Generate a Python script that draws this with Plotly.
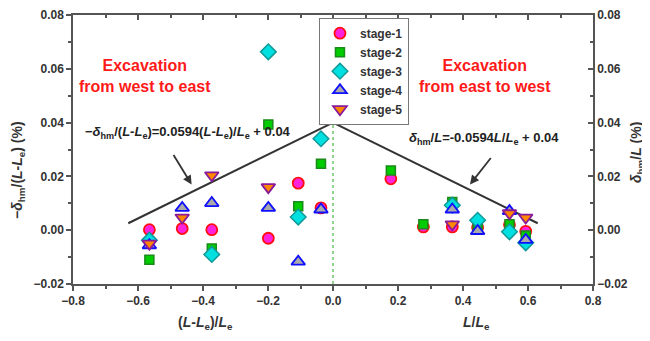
import plotly.graph_objects as go

# ---- data ----
stage_names = ["stage-1", "stage-2", "stage-3", "stage-4", "stage-5"]
s1_x = [-0.565, -0.464, -0.373, -0.199, -0.107, -0.037, 0.178, 0.278, 0.367, 0.445, 0.543, 0.593]
s1_y = [0.0002, 0.0006, 0.0002, -0.003, 0.0175, 0.0083, 0.0191, 0.0012, 0.0012, 0.001, 0.002, -0.0004]
s2_x = [-0.565, -0.373, -0.199, -0.107, -0.037, 0.178, 0.278, 0.367, 0.445, 0.543, 0.593]
s2_y = [-0.011, -0.0068, 0.0393, 0.0089, 0.0247, 0.0222, 0.0022, 0.0105, 0.001, 0.0022, -0.002]
s3_x = [-0.565, -0.373, -0.199, -0.107, -0.037, 0.367, 0.445, 0.543, 0.593]
s3_y = [-0.0037, -0.009, 0.0663, 0.0049, 0.034, 0.0093, 0.0037, -0.0006, -0.0047]
s4_x = [-0.565, -0.464, -0.373, -0.199, -0.107, -0.037, 0.367, 0.445, 0.543, 0.593]
s4_y = [-0.0056, 0.0083, 0.0101, 0.0083, -0.0117, 0.0077, 0.0077, -0.0003, 0.0071, -0.0036]
s5_x = [-0.565, -0.464, -0.373, -0.199, 0.367, 0.543, 0.593]
s5_y = [-0.005, 0.0047, 0.0204, 0.016, 0.0022, 0.0063, 0.0047]

fit_left_x = [-0.63, 0.0]
fit_left_y = [0.0594 * v + 0.04 for v in fit_left_x]
fit_right_x = [0.0, 0.63]
fit_right_y = [-0.0594 * v + 0.04 for v in fit_right_x]

x_range = [-0.8, 0.8]
y_range = [-0.02, 0.08]

FONT = "Liberation Sans, Arial, sans-serif"

fig = go.Figure()

fig.add_trace(go.Scatter(x=[0, 0], y=y_range, mode="lines",
                         line=dict(color="#22aa22", width=1, dash="dot"),
                         showlegend=False, hoverinfo="skip"))
fig.add_trace(go.Scatter(x=fit_left_x, y=fit_left_y, mode="lines",
                         line=dict(color="#333333", width=2), showlegend=False))
fig.add_trace(go.Scatter(x=fit_right_x, y=fit_right_y, mode="lines",
                         line=dict(color="#333333", width=2), showlegend=False))

styles = [
    dict(symbol="circle", size=11, color="#ff22dd", line=dict(color="#ff1010", width=1.8)),
    dict(symbol="square", size=9, color="#00cc00", line=dict(color="#1a8a1a", width=1.5)),
    dict(symbol="diamond", size=12, color="#00e0e0", line=dict(color="#119999", width=1.5)),
    dict(symbol="triangle-up", size=12, color="#aaaaaa", line=dict(color="#1010ff", width=1.8)),
    dict(symbol="triangle-down", size=12, color="#ff8800", line=dict(color="#8a1a9a", width=1.8)),
]
data = [(s1_x, s1_y), (s2_x, s2_y), (s3_x, s3_y), (s4_x, s4_y), (s5_x, s5_y)]
for name, (xs, ys), st in zip(stage_names, data, styles):
    fig.add_trace(go.Scatter(x=xs, y=ys, mode="markers", name=name, marker=st))

# dummy trace to bind secondary (top/right) axes
fig.add_trace(go.Scatter(x=fit_right_x, y=fit_right_y, xaxis="x2", yaxis="y2",
                         mode="lines", line=dict(width=0), showlegend=False,
                         hoverinfo="skip"))

axcol = "#555555"
tickfont = dict(family=FONT, size=12, color="#333333", weight="bold")

fig.update_layout(
    width=650, height=341,
    margin=dict(l=65, r=65, t=7, b=65),
    paper_bgcolor="white", plot_bgcolor="white",
    font=dict(family=FONT),
    xaxis=dict(range=x_range, dtick=0.2, tickformat=".1f", showgrid=False, zeroline=False,
               automargin=False,
               showline=True, linecolor=axcol, linewidth=1.5, ticks="outside",
               ticklen=5, tickcolor=axcol, tickwidth=1.5, tickfont=tickfont,
               minor=dict(dtick=0.1, ticks="outside", ticklen=3, tickcolor=axcol)),
    yaxis=dict(range=y_range, dtick=0.02, tickformat=".2f", showgrid=False, zeroline=False,
               automargin=False,
               showline=True, linecolor=axcol, linewidth=1.5, ticks="outside",
               ticklen=5, tickcolor=axcol, tickwidth=1.5, tickfont=tickfont,
               minor=dict(dtick=0.01, ticks="outside", ticklen=3, tickcolor=axcol)),
    xaxis2=dict(range=x_range, overlaying="x", side="top", dtick=0.2, showgrid=False,
                zeroline=False, showline=True, linecolor=axcol, linewidth=1.5,
                automargin=False,
                ticks="inside", ticklen=5, tickcolor=axcol, tickwidth=1.5,
                showticklabels=False,
                minor=dict(dtick=0.1, ticks="inside", ticklen=3, tickcolor=axcol)),
    yaxis2=dict(range=y_range, overlaying="y", side="right", dtick=0.02, tickformat=".2f",
                showgrid=False, zeroline=False, showline=True, linecolor=axcol,
                automargin=False,
                linewidth=1.5, ticks="inside", ticklen=5, tickcolor=axcol, tickwidth=1.5,
                tickfont=tickfont,
                minor=dict(dtick=0.01, ticks="inside", ticklen=3, tickcolor=axcol)),
    legend=dict(x=0.473, y=0.99, xanchor="left", yanchor="top",
                bordercolor="#777777", borderwidth=1, bgcolor="white",
                font=dict(family=FONT, size=12, color="#333333", weight="bold"),
                tracegroupgap=0, itemwidth=30),
    showlegend=True,
)

red = dict(family=FONT, size=16, color="#ff1a1a", weight="bold")
eqfont = dict(family=FONT, size=13, color="#222222", weight="bold")
lblfont = dict(family=FONT, size=14, color="#333333", weight="bold")
ytfont = dict(family=FONT, size=14, color="#333333", weight="bold")

ann = [
    dict(x=-0.578, y=0.0575, text="Excavation<br>from west to east", font=red,
         showarrow=False, align="center"),
    dict(x=0.468, y=0.0575, text="Excavation<br>from east to west", font=red,
         showarrow=False, align="center"),
    dict(x=-0.77, y=0.0365, xanchor="left", showarrow=False, font=eqfont,
         text="−<i>δ</i><sub>hm</sub>/(<i>L</i>-<i>L</i><sub>e</sub>)=0.0594(<i>L</i>-<i>L</i><sub>e</sub>)/<i>L</i><sub>e</sub> + 0.04"),
    dict(x=0.228, y=0.034, xanchor="left", showarrow=False, font=eqfont,
         text="<i>δ</i><sub>hm</sub>/<i>L</i>=-0.0594<i>L</i>/<i>L</i><sub>e</sub> + 0.04"),
    dict(x=-0.435, y=0.017, ax=-19, ay=-31, showarrow=True, arrowhead=2,
         arrowsize=1, arrowwidth=1.8, arrowcolor="#333333", text=""),
    dict(x=0.4215, y=0.017, ax=22, ay=-28, showarrow=True, arrowhead=2,
         arrowsize=1, arrowwidth=1.8, arrowcolor="#333333", text=""),
    dict(xref="paper", yref="paper", x=(205 - 73) / 520, y=-0.145, xanchor="center",
         yanchor="middle", showarrow=False, font=lblfont,
         text="(<i>L</i>-<i>L</i><sub>e</sub>)/<i>L</i><sub>e</sub>"),
    dict(xref="paper", yref="paper", x=(476 - 73) / 520, y=-0.145, xanchor="center",
         yanchor="middle", showarrow=False, font=lblfont,
         text="<i>L</i>/<i>L</i><sub>e</sub>"),
    dict(xref="paper", yref="paper", x=(18 - 73) / 520, y=0.424, xanchor="center",
         yanchor="middle", textangle=-90, showarrow=False, font=ytfont,
         text="−<i>δ</i><sub>hm</sub>/(<i>L</i>-<i>L</i><sub>e</sub>) (%)"),
    dict(xref="paper", yref="paper", x=(637 - 73) / 520, y=0.487, xanchor="center",
         yanchor="middle", textangle=-90, showarrow=False, font=ytfont,
         text="<i>δ</i><sub>hm</sub>/<i>L</i> (%)"),
]
for a in ann:
    a.setdefault("xref", "x")
    a.setdefault("yref", "y")
    if a.get("showarrow"):
        a["axref"] = "pixel"
        a["ayref"] = "pixel"
fig.update_layout(annotations=ann)

fig.write_html("out.html")
